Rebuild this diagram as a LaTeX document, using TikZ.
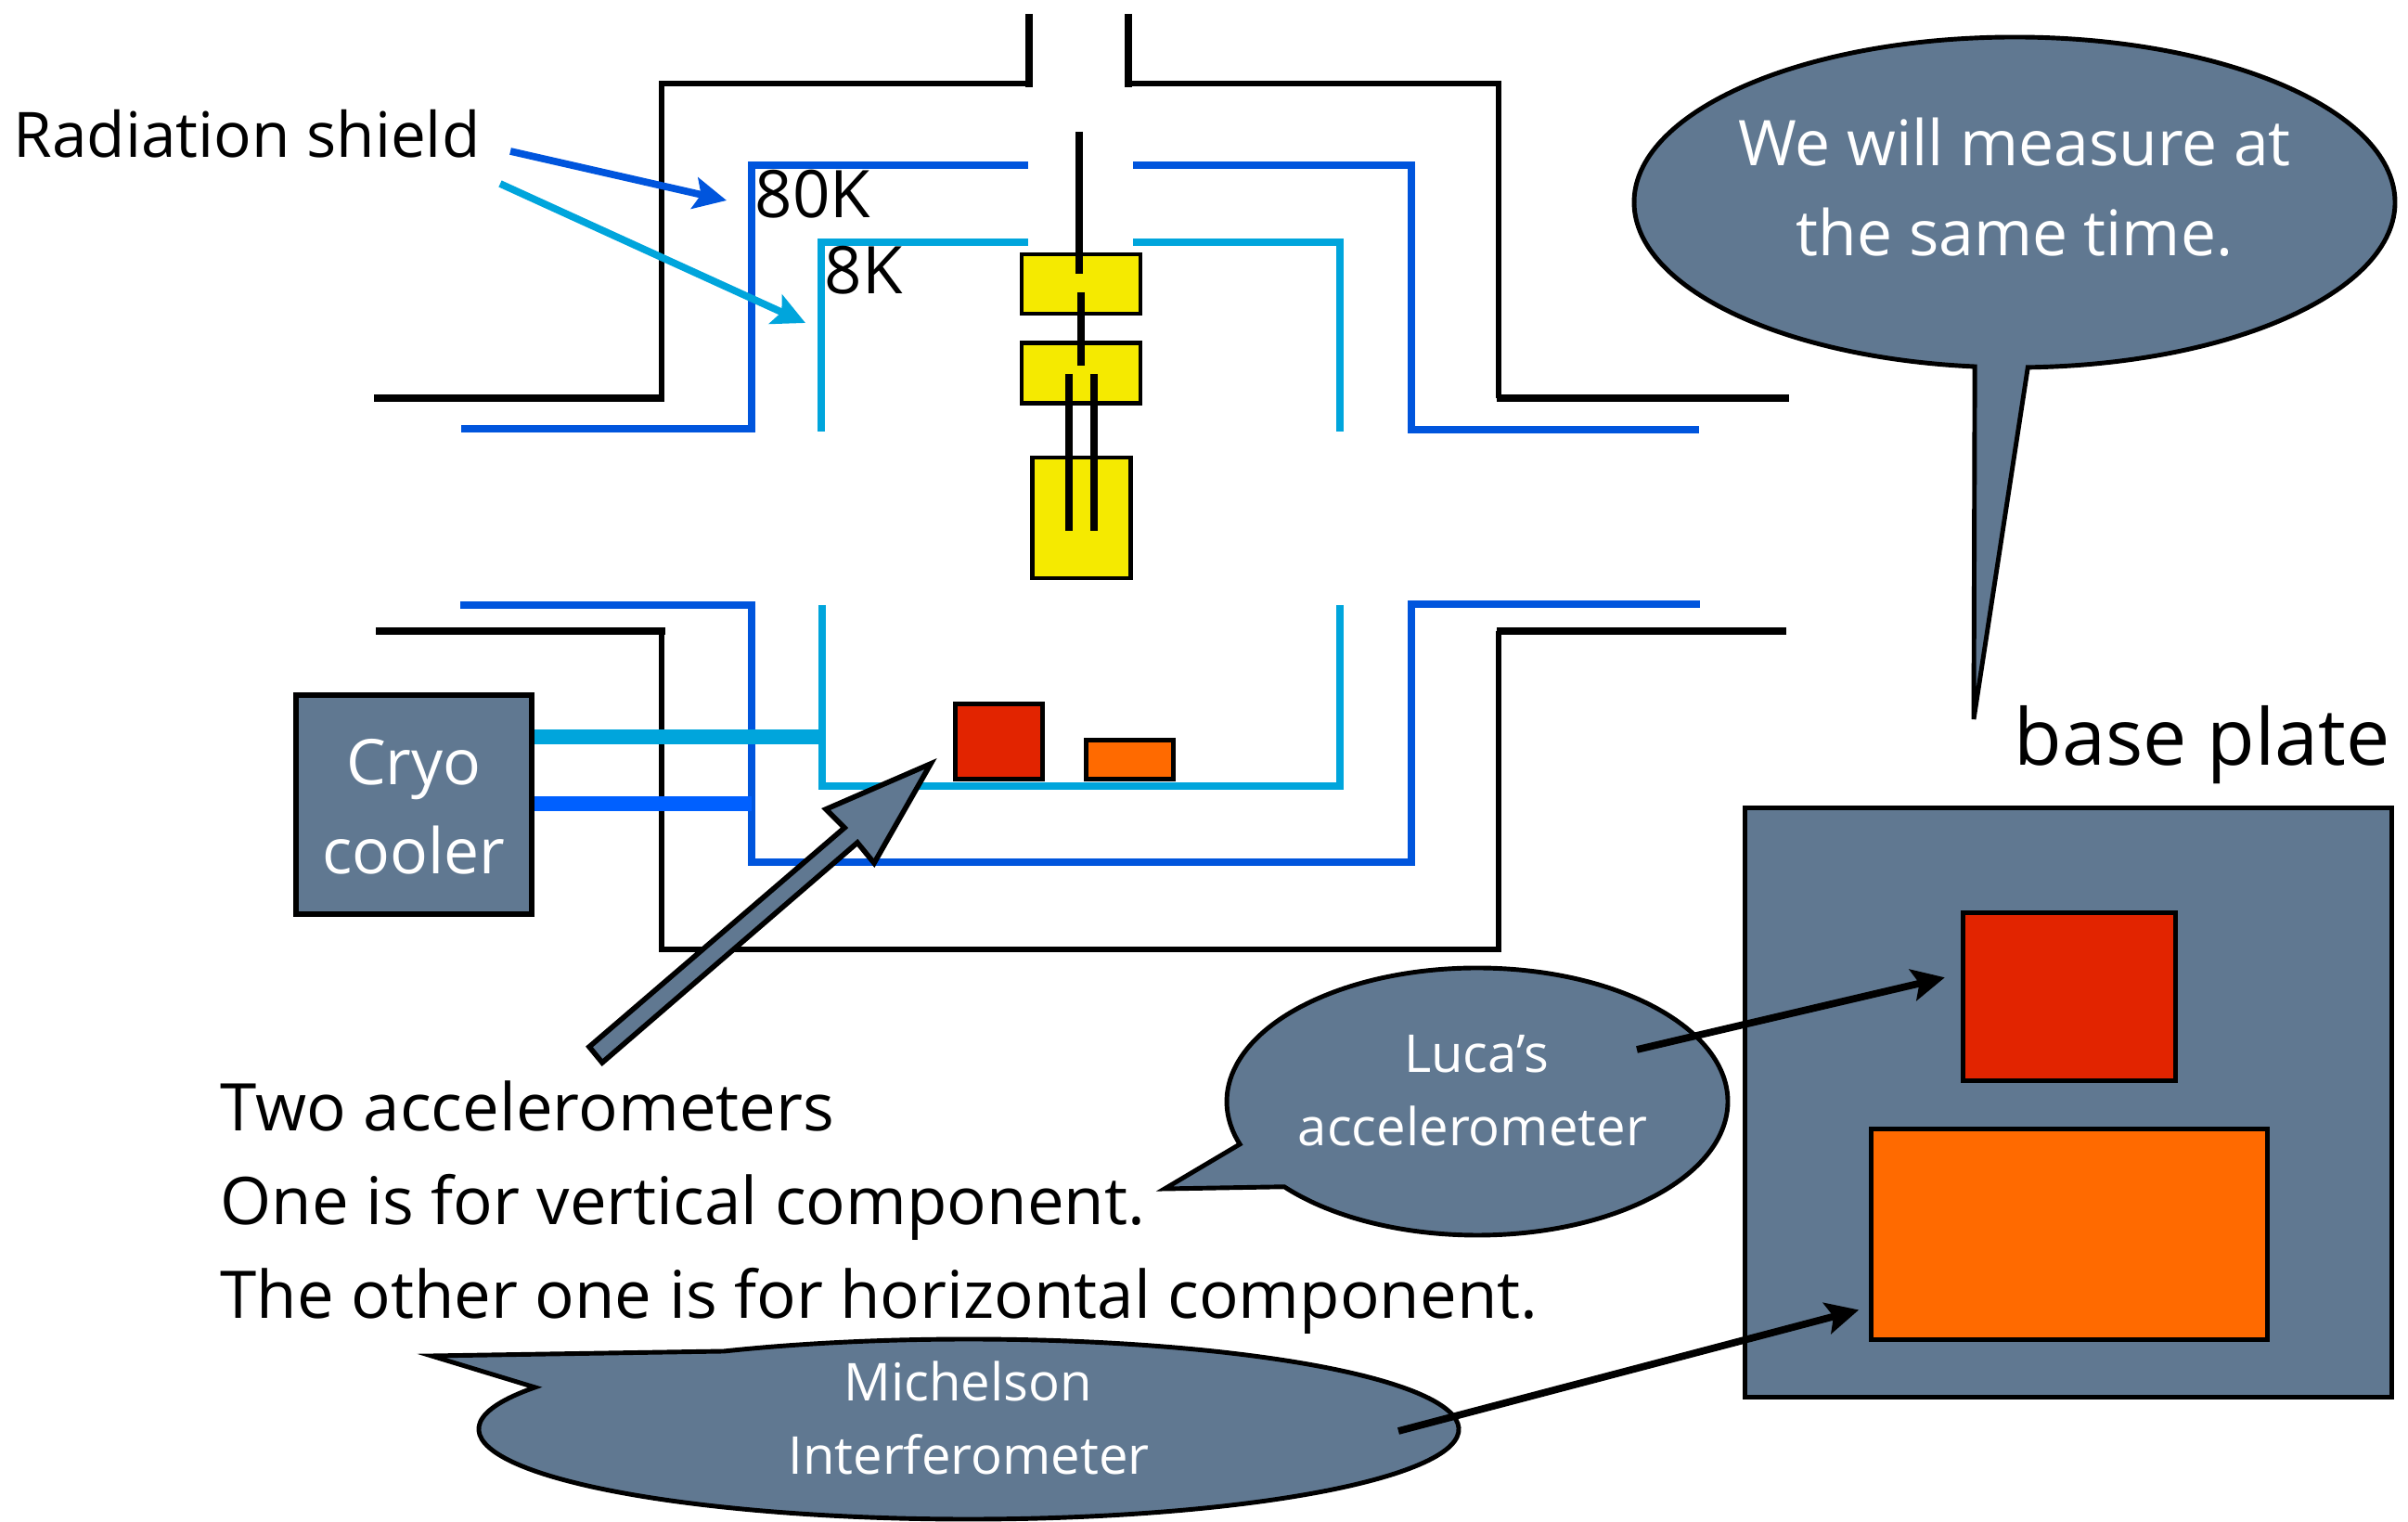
\documentclass[tikz,border=0pt]{standalone}
\usepackage{fontspec}
\setmainfont{Open Sans}
\usetikzlibrary{arrows.meta}

\definecolor{slate}{HTML}{607891}
\definecolor{shieldblue}{HTML}{0055DD}
\definecolor{shieldcyan}{HTML}{00A5DC}
\definecolor{linkblue}{HTML}{0060FF}
\definecolor{massyellow}{HTML}{F5EA00}
\definecolor{accred}{HTML}{E22400}
\definecolor{accorange}{HTML}{FF6A00}

\tikzset{
  >={Stealth[length=10pt,width=9.7pt,inset=2pt]},
  box/.style={draw, line width=1.4pt, inner sep=0pt},
  bubble/.style={draw, line width=1.4pt, fill=slate},
  wall/.style={line width=1.55pt},
  lip/.style={line width=2.3pt},
  rod/.style={line width=2.3pt},
  hot/.style={shieldblue, line width=2.3pt},
  cold/.style={shieldcyan, line width=2.3pt},
  blacktext/.style={inner sep=0pt, font=\fontsize{20.15}{20.15}\selectfont},
  whitetext/.style={inner sep=0pt, text=white, font=\fontsize{19.3}{19.3}\selectfont},
  smalltext/.style={inner sep=0pt, text=white, font=\fontsize{16}{16}\selectfont}
}

\begin{document}
\begin{tikzpicture}
  \useasboundingbox (0,0) rectangle (25.95,16.4);

  % Vacuum chamber
  \draw [wall] (7.13,12.11) -- (7.13,15.5) -- (11.09,15.5);
  \draw [wall] (12.16,15.5) -- (16.15,15.5) -- (16.15,12.11);
  \draw [lip] (4.03,12.11) -- (7.16,12.11);
  \draw [lip] (16.13,12.11) -- (19.28,12.11);
  \draw [lip] (11.09,16.25) -- (11.09,15.46);
  \draw [lip] (12.16,16.25) -- (12.16,15.46);
  \draw [lip] (4.05,9.6) -- (7.17,9.6);
  \draw [wall] (7.13,9.6) -- (7.13,6.17) -- (16.15,6.17) -- (16.15,9.6);
  \draw [lip] (16.13,9.6) -- (19.25,9.6);

  % Radiation shields
  \draw [hot] (4.97,11.78) -- (8.1,11.78) -- (8.1,14.62) -- (11.08,14.62);
  \draw [hot] (12.21,14.62) -- (15.21,14.62) -- (15.21,11.77) -- (18.31,11.77);
  \draw [hot] (4.96,9.88) -- (8.1,9.88) -- (8.1,7.11) -- (15.21,7.11) -- (15.21,9.89) -- (18.32,9.89);
  \draw [cold] (8.85,11.75) -- (8.85,13.79) -- (11.08,13.79);
  \draw [cold] (12.21,13.79) -- (14.44,13.79) -- (14.44,11.75);
  \draw [cold] (8.86,9.88) -- (8.86,7.93) -- (14.44,7.93) -- (14.44,9.88);

  % Suspension
  \node [box, fill=massyellow, minimum width=1.28cm, minimum height=0.64cm] (upper) at (11.65,13.34) {};
  \node [box, fill=massyellow, minimum width=1.28cm, minimum height=0.65cm] (lower) at (11.65,12.38) {};
  \node [box, fill=massyellow, minimum width=1.06cm, minimum height=1.3cm] (mirror) at (11.655,10.82) {};
  \draw [rod] (11.63,14.98) -- (11.63,13.45);
  \draw [rod] (11.65,13.25) -- (11.65,12.46);
  \draw [rod] (11.52,12.37) -- (11.52,10.68);
  \draw [rod] (11.79,12.37) -- (11.79,10.68);

  % Cryocooler and its links
  \node [box, line width=1.7pt, fill=slate, minimum width=2.54cm, minimum height=2.36cm] (cryo) at (4.46,7.73) {};
  \draw [shieldcyan, line width=4.5pt] (cryo.east |- 0,8.46) -- (8.86,8.46);
  \draw [linkblue, line width=4.5pt] (cryo.east |- 0,7.74) -- (8.1,7.74);
  \node [whitetext, anchor=base] (cryotext) at (4.46,7.94) {Cryo};
  \node [whitetext, anchor=base] (coolertext) at (4.46,6.98) {cooler};

  % Accelerometers on the inner shield
  \node [box, fill=accred, minimum width=0.94cm, minimum height=0.81cm] (redsmall) at (10.765,8.41) {};
  \node [box, fill=accorange, minimum width=0.94cm, minimum height=0.42cm] (orangesmall) at (12.175,8.215) {};

  % Big arrow
  \draw [bubble, line width=1.6pt] (6.35,5.12) -- (9.1,7.48) -- (8.9,7.68) -- (10.03,8.17) -- (9.42,7.1) -- (9.24,7.32) -- (6.49,4.95) -- cycle;

  % Radiation shield labels and arrows
  \node [blacktext, anchor=base west, font=\fontsize{19.2}{19.2}\selectfont] (radiation) at (0.14,14.7) {Radiation shield};
  \node [blacktext, anchor=base west] (hotlabel) at (8.13,14.05) {80K};
  \node [blacktext, anchor=base west] (coldlabel) at (8.88,13.23) {8K};
  \coordinate (hotstart) at (5.5,14.77);
  \coordinate (hotend) at (7.83,14.24);
  \coordinate (coldstart) at (5.39,14.42);
  \coordinate (coldend) at (8.68,12.92);
  \draw [->, shieldblue, line width=2.2pt] (hotstart) -- (hotend);
  \draw [->, shieldcyan, line width=2.2pt] (coldstart) -- (coldend);

  % Speech bubbles
  \draw [bubble] (21.71,14.22) ++(272:4.1 and 1.78) arc[start angle=272, end angle=624, x radius=4.1, y radius=1.78] -- (21.27,8.65) -- cycle;
  \node [whitetext, anchor=base] (we) at (21.71,14.61) {We will measure at};
  \node [whitetext, anchor=base] (same) at (21.71,13.64) {the same time.};
  \draw [bubble] (15.92,4.53) ++(219.6:2.7 and 1.44) arc[start angle=219.6, end angle=558.6, x radius=2.7, y radius=1.44] -- (12.55,3.59) -- cycle;
  \node [smalltext, anchor=base] (luca) at (15.91,4.84) {Luca’s};
  \node [smalltext, anchor=base] (lucaacc) at (15.87,4.05) {accelerometer};
  \draw [bubble] (10.44,1.0) ++(152.3:5.28 and 0.97) arc[start angle=152.3, end angle=480, x radius=5.28, y radius=0.97] -- (4.65,1.79) -- cycle;
  \node [smalltext, anchor=base] (michelson) at (10.43,1.3) {Michelson};
  \node [smalltext, anchor=base] (interf) at (10.44,0.51) {Interferometer};

  % Base plate
  \node [blacktext, anchor=base west, font=\fontsize{24}{24}\selectfont] (basetext) at (21.7,8.15) {base plate};
  \node [box, fill=slate, minimum width=6.97cm, minimum height=6.35cm] (plate) at (22.29,4.52) {};
  \node [box, fill=accred, minimum width=2.285cm, minimum height=1.81cm] (redbig) at (22.3,5.66) {};
  \node [box, fill=accorange, minimum width=4.27cm, minimum height=2.27cm] (orangebig) at (22.3,3.1) {};

  % Text below the chamber
  \node [blacktext, anchor=base west] (two) at (2.37,4.21) {Two accelerometers};
  \node [blacktext, anchor=base west] (one) at (2.37,3.2) {One is for vertical component.};
  \node [blacktext, anchor=base west] (other) at (2.37,2.19) {The other one is for horizontal component.};

  % Arrows to the big accelerometers
  \coordinate (lucastart) at (17.64,5.09);
  \coordinate (michstart) at (15.07,0.98);
  \draw [->, line width=2.2pt, shorten >=5.1pt] (lucastart) -- (redbig.168.8);
  \draw [->, line width=2.2pt, shorten >=3.2pt] (michstart) -- (orangebig.200.4);
\end{tikzpicture}
\end{document}
